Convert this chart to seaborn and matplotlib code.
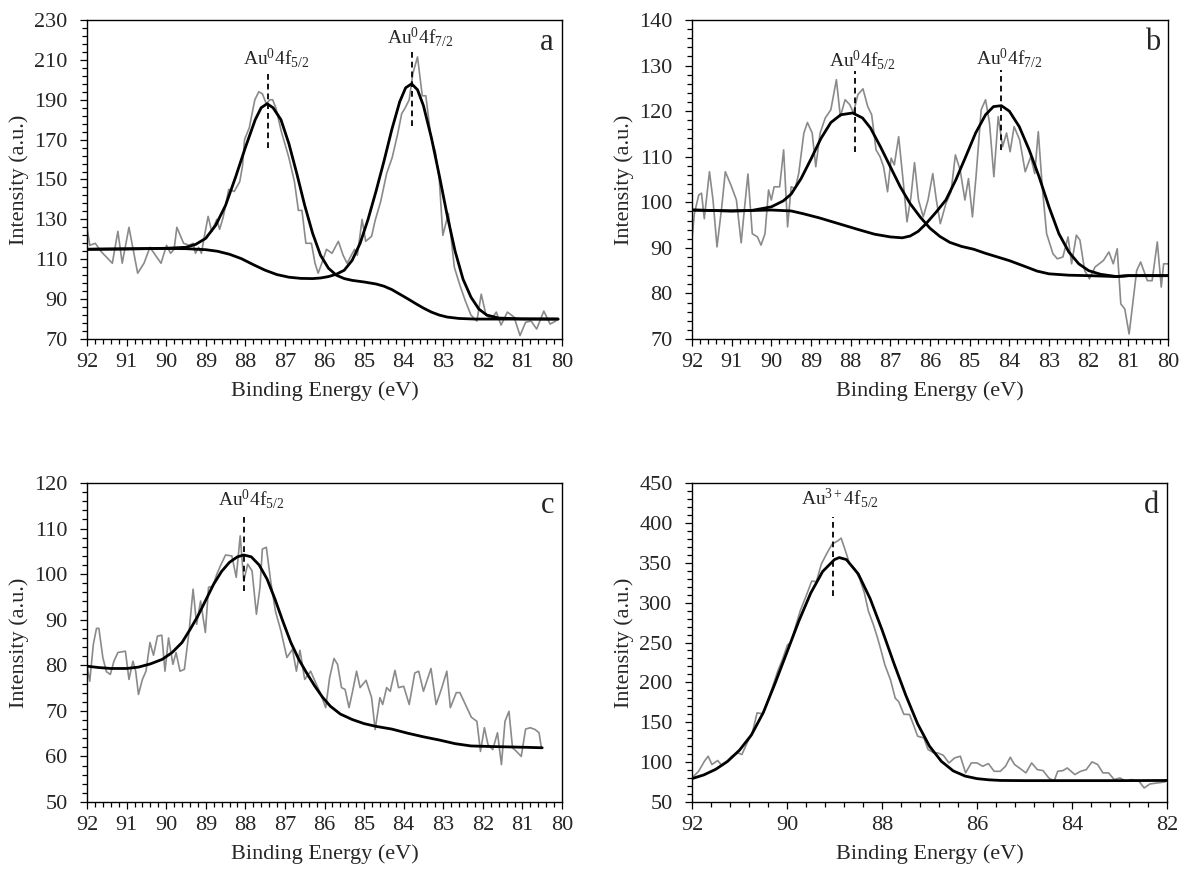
import matplotlib
matplotlib.use("Agg")
import matplotlib.pyplot as plt
from matplotlib.ticker import MultipleLocator
import pandas as pd
import seaborn as sns

# ---------------- Panel a ----------------
a_raw_be = [92.00, 91.93, 91.79, 91.65, 91.36, 91.22, 91.11, 90.94, 90.72, 90.56, 90.41, 90.27,
            90.13, 89.99, 89.89, 89.80, 89.73, 89.56, 89.42, 89.32, 89.26, 89.18, 89.11, 89.04,
            88.94, 88.85, 88.72, 88.65, 88.56, 88.42, 88.28, 88.14, 88.07, 88.02, 87.90, 87.76,
            87.66, 87.57, 87.47, 87.38, 87.31, 87.23, 87.09, 86.90, 86.76, 86.66, 86.57, 86.47,
            86.33, 86.24, 86.16, 86.05, 85.95, 85.81, 85.65, 85.53, 85.43, 85.24, 85.17, 85.05,
            84.96, 84.81, 84.72, 84.58, 84.43, 84.29, 84.15, 84.05, 83.96, 83.86, 83.77, 83.65,
            83.53, 83.44, 83.31, 83.20, 83.10, 83.01, 82.87, 82.72, 82.58, 82.44, 82.30, 82.15,
            82.04, 81.92, 81.78, 81.66, 81.54, 81.38, 81.21, 81.06, 80.92, 80.78, 80.64, 80.46,
            80.30, 80.16]
a_raw_int = [126, 117, 118, 114, 108, 124, 108, 126, 103, 108, 116, 112,
             108, 117, 113, 115, 126, 118, 117, 118, 113, 116, 113, 121,
             131.5, 124, 130, 125, 131, 145, 144, 149, 157, 170, 176, 190,
             194, 193, 188, 190, 190, 186, 174, 161, 149, 134.5, 134.5, 118,
             118, 108, 103, 109, 115, 113, 119, 112, 108, 115, 112, 130,
             119, 121.5, 129.5, 139, 153, 161, 173, 183, 186, 190, 203, 211.5,
             192, 192, 171, 164, 150, 122, 133, 106, 97, 89, 82, 79,
             92.5, 82, 80, 83.5, 77, 83.5, 81, 71.7, 78.4, 79, 75, 84,
             77.5, 79]
a_fit1_be = [92.0, 91.0, 90.0, 89.5, 89.25, 89.0, 88.75, 88.5, 88.25, 88.0, 87.75, 87.6, 87.45,
             87.3, 87.1, 86.9, 86.7, 86.5, 86.3, 86.1, 85.9, 85.7, 85.5, 85.3, 85.0, 84.7, 84.5,
             84.3, 84.1, 83.9, 83.7, 83.5, 83.3, 83.1, 82.9, 82.6, 82.2, 81.0, 80.1]
a_fit1_int = [115.0, 115.2, 115.5, 116.0, 117.5, 120.5, 127, 137, 151, 166, 180, 186, 188,
              186, 180, 168, 153, 137, 123, 112, 105.5, 102.0, 100.3, 99.4, 98.6, 97.6, 96.5,
              94.8, 92.5, 90.2, 87.8, 85.5, 83.5, 82.0, 81.0, 80.3, 80.0, 80.0, 80.0]
a_fit2_be = [92.0, 91.0, 90.0, 89.5, 89.0, 88.7, 88.4, 88.1, 87.8, 87.5, 87.2, 86.9, 86.6, 86.3,
             86.1, 85.9, 85.7, 85.5, 85.3, 85.1, 84.9, 84.7, 84.5, 84.3, 84.1, 83.95, 83.8, 83.65,
             83.5, 83.3, 83.1, 82.9, 82.7, 82.5, 82.3, 82.1, 81.9, 81.6, 81.0, 80.1]
a_fit2_int = [115.0, 115.2, 115.4, 115.3, 114.8, 114.0, 112.5, 110.3, 107.3, 104.5, 102.3, 101.0,
              100.4, 100.3, 100.6, 101.3, 102.5, 104.5, 109.5, 118.0, 130, 144, 159, 175, 189,
              196, 198, 195, 187, 171, 152, 132, 114, 100, 91, 85, 82, 80.5, 80.1, 80.0]
a_peaks = [87.43, 83.79]
a_labels = [r"Au$^{\mathrm{0}}$4f$_{\mathrm{5/2}}$", r"Au$^{\mathrm{0}}$4f$_{\mathrm{7/2}}$"]
a_dash = [(166, 205, 207.5), (177, 216, 218.5)]

# ---------------- Panel b ----------------
b_raw_be = [92.00, 91.94, 91.83, 91.76, 91.69, 91.56, 91.47, 91.37, 91.25, 91.16, 91.02, 90.88,
            90.76, 90.69, 90.59, 90.48, 90.35, 90.26, 90.16, 90.07, 90.00, 89.93, 89.79, 89.69,
            89.59, 89.50, 89.40, 89.31, 89.18, 89.09, 88.97, 88.88, 88.77, 88.64, 88.50, 88.36,
            88.26, 88.14, 88.02, 87.93, 87.82, 87.69, 87.57, 87.47, 87.36, 87.26, 87.17, 87.07,
            86.98, 86.90, 86.79, 86.67, 86.58, 86.48, 86.39, 86.29, 86.17, 86.05, 85.93, 85.84,
            85.74, 85.60, 85.47, 85.36, 85.24, 85.12, 85.03, 84.93, 84.84, 84.71, 84.60, 84.50,
            84.39, 84.28, 84.17, 84.07, 83.98, 83.88, 83.74, 83.60, 83.46, 83.36, 83.27, 83.17,
            83.06, 82.90, 82.79, 82.65, 82.52, 82.43, 82.31, 82.22, 82.10, 81.98, 81.84, 81.63,
            81.49, 81.38, 81.28, 81.19, 81.09, 80.98, 80.88, 80.79, 80.69, 80.52, 80.40, 80.27,
            80.17, 80.11, 80.00]
b_raw_int = [92.0, 97.5, 101.6, 102.0, 96.4, 106.7, 100.5, 90.2, 99.0, 106.7, 103.8, 100.5,
             91.1, 97.5, 106.2, 93.1, 92.4, 90.6, 93.1, 102.7, 100.5, 103.4, 103.4, 111.5,
             94.6, 103.4, 103.0, 106.3, 115.2, 117.5, 115.2, 107.8, 115.2, 118.5, 120.3, 126.9,
             118.8, 122.5, 121.4, 119.6, 123.6, 124.9, 121.0, 119.2, 111.5, 110.0, 107.8, 102.3,
             109.7, 108.2, 114.4, 104.1, 95.7, 101.2, 108.7, 100.5, 96.8, 100.5, 106.3, 100.5,
             95.3, 99.7, 102.3, 110.4, 107.1, 100.5, 105.2, 96.8, 105.6, 120.3, 122.5, 117.4,
             105.6, 118.8, 112.2, 115.2, 111.1, 116.6, 113.7, 106.7, 110.0, 106.3, 115.5, 103.4,
             93.1, 88.7, 87.6, 88.0, 92.4, 86.5, 92.8, 91.7, 85.0, 83.2, 85.8, 87.2,
             89.1, 86.5, 89.8, 77.7, 76.6, 71.1, 78.4, 85.0, 86.9, 82.8, 82.8, 91.3,
             81.4, 86.5, 86.5]
b_fit1_be = [92.0, 91.0, 90.5, 90.0, 89.7, 89.5, 89.25, 89.0, 88.75, 88.5, 88.25, 87.95, 87.7,
             87.5, 87.25, 87.0, 86.75, 86.5, 86.25, 86.0, 85.75, 85.5, 85.2, 84.9, 84.6, 84.3,
             84.0, 83.6, 83.3, 83.0, 82.5, 82.0, 81.3, 81.0, 80.0]
b_fit1_int = [98.3, 98.1, 98.2, 99.0, 100.3, 101.8, 105.2, 109.5, 114.0, 117.5, 119.2, 119.6,
              118.5, 116.3, 112.2, 107.8, 103.4, 99.7, 96.8, 94.3, 92.5, 91.2, 90.3, 89.7, 88.8,
              88.0, 87.2, 85.9, 84.9, 84.3, 84.0, 83.9, 83.7, 83.9, 83.9]
b_fit2_be = [92.0, 91.0, 90.5, 90.0, 89.5, 89.2, 88.8, 88.3, 87.8, 87.4, 87.0, 86.7, 86.5, 86.3,
             86.1, 85.85, 85.6, 85.35, 85.1, 84.85, 84.6, 84.4, 84.2, 84.0, 83.75, 83.5, 83.25,
             83.0, 82.75, 82.5, 82.25, 82.0, 81.7, 81.3, 81.0, 80.0]
b_fit2_int = [98.3, 98.1, 98.2, 98.3, 98.1, 97.5, 96.6, 95.3, 94.0, 93.0, 92.4, 92.2, 92.6, 93.6,
              95.3, 97.8, 100.5, 104.9, 110.0, 115.2, 119.2, 121.0, 121.2, 120.0, 116.6, 111.5,
              105.6, 99.0, 93.1, 89.1, 86.5, 85.0, 84.2, 83.7, 83.9, 83.9]
b_peaks = [87.90, 84.20]
b_labels = [r"Au$^{\mathrm{0}}$4f$_{\mathrm{5/2}}$", r"Au$^{\mathrm{0}}$4f$_{\mathrm{7/2}}$"]
b_dash = [(111.1, 128.8, 129.9), (111.5, 129.1, 130.2)]

# ---------------- Panel c ----------------
c_raw_be = [92.00, 91.93, 91.84, 91.76, 91.70, 91.60, 91.51, 91.41, 91.32, 91.22, 91.03, 90.94,
            90.84, 90.77, 90.70, 90.60, 90.51, 90.41, 90.32, 90.22, 90.11, 90.03, 89.94, 89.83,
            89.75, 89.65, 89.54, 89.42, 89.32, 89.23, 89.13, 89.01, 88.93, 88.82, 88.72, 88.61,
            88.50, 88.34, 88.23, 88.13, 88.04, 87.94, 87.83, 87.72, 87.63, 87.57, 87.47, 87.36,
            87.24, 87.10, 86.95, 86.81, 86.71, 86.62, 86.50, 86.35, 86.24, 86.09, 85.97, 85.87,
            85.76, 85.67, 85.57, 85.48, 85.38, 85.29, 85.19, 85.10, 84.95, 84.81, 84.72, 84.60,
            84.53, 84.43, 84.34, 84.22, 84.13, 84.00, 83.86, 83.72, 83.62, 83.50, 83.31, 83.18,
            83.05, 82.91, 82.82, 82.67, 82.58, 82.44, 82.29, 82.15, 82.06, 81.96, 81.87, 81.75,
            81.63, 81.53, 81.44, 81.34, 81.25, 81.15, 81.03, 80.92, 80.80, 80.68, 80.58, 80.52]
c_raw_int = [79.8, 76.5, 84.6, 88.1, 88.1, 81.7, 78.6, 78.0, 80.9, 82.8, 83.1, 76.9,
             80.9, 78.7, 73.6, 76.9, 78.7, 85.0, 82.2, 86.4, 86.6, 78.7, 86.0, 80.2,
             82.8, 78.7, 79.1, 87.5, 96.7, 89.0, 94.1, 87.2, 97.1, 97.4, 100.0, 102.2,
             104.2, 104.0, 99.3, 108.4, 98.5, 102.2, 100.7, 91.2, 97.1, 105.5, 105.9, 98.5,
             91.9, 87.5, 81.7, 83.5, 78.7, 83.3, 76.9, 78.7, 76.5, 73.6, 70.7, 77.3,
             81.5, 80.2, 75.1, 74.7, 70.7, 74.3, 78.7, 75.1, 76.7, 72.9, 65.9, 72.9,
             71.4, 75.1, 74.3, 78.9, 75.1, 75.4, 71.4, 78.3, 78.7, 74.3, 79.3, 71.4,
             74.7, 78.7, 70.7, 74.0, 74.0, 71.4, 68.6, 67.7, 61.1, 66.3, 62.6, 61.5,
             65.2, 58.2, 67.7, 69.9, 61.9, 61.1, 60.0, 66.0, 66.3, 65.9, 65.2, 61.9]
c_fit_be = [92.0, 91.7, 91.4, 91.0, 90.7, 90.4, 90.1, 89.85, 89.6, 89.4, 89.2, 89.0, 88.8, 88.6,
            88.4, 88.2, 88.04, 87.85, 87.65, 87.45, 87.25, 87.05, 86.85, 86.65, 86.45, 86.25,
            86.05, 85.85, 85.6, 85.3, 85.0, 84.7, 84.3, 83.9, 83.5, 83.1, 82.7, 82.3, 81.9,
            81.4, 80.9, 80.5]
c_fit_int = [79.8, 79.5, 79.3, 79.3, 79.6, 80.3, 81.3, 82.8, 85.0, 87.8, 90.8, 94.3, 97.8, 100.6,
             102.6, 103.8, 104.2, 103.8, 102.0, 98.9, 94.5, 89.6, 85.0, 81.3, 78.3, 75.5,
             73.0, 71.0, 69.3, 68.1, 67.2, 66.6, 66.0, 65.1, 64.3, 63.6, 62.8, 62.3, 62.2,
             62.1, 62.0, 61.9]
c_peaks = [88.04]
c_labels = [r"Au$^{\mathrm{0}}$4f$_{\mathrm{5/2}}$"]
c_dash = [(96.3, 113.5, 115.0)]

# ---------------- Panel d ----------------
d_raw_be = [92.00, 91.86, 91.74, 91.66, 91.58, 91.46, 91.37, 91.29, 91.16, 91.03, 90.95, 90.84,
            90.73, 90.63, 90.51, 90.43, 90.31, 90.19, 90.10, 89.99, 89.92, 89.84, 89.72, 89.60,
            89.48, 89.38, 89.28, 89.17, 89.05, 88.93, 88.86, 88.77, 88.69, 88.57, 88.47, 88.37,
            88.29, 88.18, 88.10, 88.02, 87.94, 87.82, 87.72, 87.65, 87.54, 87.42, 87.34, 87.25,
            87.12, 87.03, 86.91, 86.83, 86.71, 86.59, 86.47, 86.35, 86.24, 86.12, 86.00, 85.88,
            85.76, 85.64, 85.51, 85.40, 85.30, 85.21, 85.09, 84.97, 84.85, 84.73, 84.61, 84.49,
            84.38, 84.30, 84.19, 84.10, 83.94, 83.82, 83.70, 83.58, 83.46, 83.35, 83.23, 83.11,
            82.99, 82.87, 82.75, 82.59, 82.48, 82.36, 82.20, 82.04]
d_raw_int = [80.2, 88.5, 101, 107.4, 97, 102, 95.7, 99, 107.4, 111.6, 109.5, 124.1,
             136.7, 161.8, 160.6, 172.3, 193.2, 215.0, 228.0, 247.0, 250.0, 266.0, 290.0, 308.0,
             327.0, 326.4, 348.0, 360.8, 373.4, 377.5, 380.9, 365, 350.0, 342.0, 330.0, 312.0,
             290.0, 272.0, 257.0, 240.0, 222.0, 203.0, 180.0, 176.0, 160.0, 159.7, 147.2, 132.5,
             130.4, 115.8, 111.6, 111.6, 108.6, 99, 105.3, 107.4, 86.5, 99, 99, 94.8,
             98.2, 88.5, 88.5, 94.8, 106.1, 97, 91.9, 86.5, 99, 90.6, 89.4, 80.2,
             76, 88.5, 89.4, 92.7, 84.4, 88.5, 90.6, 100.3, 97, 86.5, 86.5, 78.1,
             80.2, 76, 78.1, 76, 67.6, 72.6, 73.9, 75.2]
d_fit_be = [92.0, 91.75, 91.5, 91.25, 91.0, 90.75, 90.5, 90.25, 90.0, 89.75, 89.5, 89.25, 89.0,
            88.9, 88.75, 88.5, 88.25, 88.0, 87.75, 87.5, 87.25, 87.0, 86.75, 86.5, 86.25, 86.0,
            85.75, 85.5, 85.0, 84.0, 83.0, 82.0]
d_fit_int = [79.3, 84, 91, 101, 115, 134, 162, 199, 238, 277, 312, 339, 354,
             356.5, 354, 336, 305, 266, 224, 184, 148, 120, 101, 89, 82.5, 79.3,
             77.8, 77.0, 76.8, 76.8, 76.8, 77.0]
d_peaks = [89.03]
d_labels = [r"Au$^{\mathrm{3+}}$4f$_{\mathrm{5/2}}$"]
d_dash = [(308.4, 407.4, 423.0)]

# ---------------- Style ----------------
sns.set_style("ticks")
plt.rcParams["font.family"] = ["Liberation Serif", "DejaVu Serif"]
plt.rcParams["mathtext.fontset"] = "custom"
plt.rcParams["mathtext.rm"] = "Liberation Serif"
plt.rcParams["mathtext.it"] = "Liberation Serif:italic"
plt.rcParams["mathtext.bf"] = "Liberation Serif:bold"

GRAY = "#8a8a8a"
BLACK = "#000000"

fig = plt.figure(figsize=(11.8, 8.71), dpi=100)
W, H = 1180, 871


def axes_at(x0, y0, x1, y1):
    return fig.add_axes([x0 / W, 1 - y1 / H, (x1 - x0) / W, (y1 - y0) / H])


def panel(ax, raw_be, raw_int, fits, xlim, ylim, xmaj, xmin, ymaj, ymin,
          peaks, labels, dashes, letter, label_shift):
    raw = pd.DataFrame({"be": raw_be, "int": raw_int})
    sns.lineplot(data=raw, x="be", y="int", ax=ax, color=GRAY, lw=1.2,
                 estimator=None, sort=False, solid_joinstyle="round")
    for fbe, fint in fits:
        fd = pd.DataFrame({"be": fbe, "int": fint})
        sns.lineplot(data=fd, x="be", y="int", ax=ax, color=BLACK, lw=2.0,
                     estimator=None, sort=False, solid_joinstyle="round")
    for px, lab, (y0, y1, yl) in zip(peaks, labels, dashes):
        ax.plot([px, px], [y0, y1], color=BLACK, lw=1.3, ls=(0, (3.2, 2.2)))
        ax.text(px - label_shift, yl, lab, ha="center", va="baseline", fontsize=14)
    ax.set_xlim(*xlim)
    ax.set_ylim(*ylim)
    y_off = ylim[0] % ymaj
    ax.xaxis.set_major_locator(MultipleLocator(xmaj))
    ax.xaxis.set_minor_locator(MultipleLocator(xmin))
    ax.yaxis.set_major_locator(MultipleLocator(ymaj, offset=y_off))
    ax.yaxis.set_minor_locator(MultipleLocator(ymin, offset=ylim[0] % ymin))
    ax.tick_params(axis="both", which="both", direction="out", color="black",
                   labelsize=16, width=0.9)
    ax.tick_params(axis="both", which="major", length=5)
    ax.tick_params(axis="both", which="minor", length=3.5)
    ax.tick_params(axis="x", which="major", pad=5)
    ax.tick_params(axis="y", which="major", pad=9)
    for s in ax.spines.values():
        s.set_visible(True)
        s.set_color("black")
        s.set_linewidth(1.0)
    ax.set_xlabel("Binding Energy (eV)", fontsize=16, labelpad=7)
    ax.set_ylabel("Intensity (a.u.)", fontsize=16, labelpad=4)
    ax.text(0.983, 0.905, letter, transform=ax.transAxes, ha="right",
            va="baseline", fontsize=22)


ax_a = axes_at(87, 20, 562, 339)
ax_b = axes_at(692, 20, 1168, 339)
ax_c = axes_at(87, 483, 562, 802)
ax_d = axes_at(692, 483, 1167, 802)

panel(ax_a, a_raw_be, a_raw_int, [(a_fit1_be, a_fit1_int), (a_fit2_be, a_fit2_int)],
      (92, 80), (70, 230), 1, 0.2, 20, 4, a_peaks, a_labels, a_dash, "a", 0.2)
panel(ax_b, b_raw_be, b_raw_int, [(b_fit1_be, b_fit1_int), (b_fit2_be, b_fit2_int)],
      (92, 80), (70, 140), 1, 0.2, 10, 2, b_peaks, b_labels, b_dash, "b", 0.2)
panel(ax_c, c_raw_be, c_raw_int, [(c_fit_be, c_fit_int)],
      (92, 80), (50, 120), 1, 0.2, 10, 2, c_peaks, c_labels, c_dash, "c", 0.2)
panel(ax_d, d_raw_be, d_raw_int, [(d_fit_be, d_fit_int)],
      (92, 82), (50, 450), 2, 0.4, 50, 10, d_peaks, d_labels, d_dash, "d", 0.15)

fig.savefig("out.png", dpi=100)
